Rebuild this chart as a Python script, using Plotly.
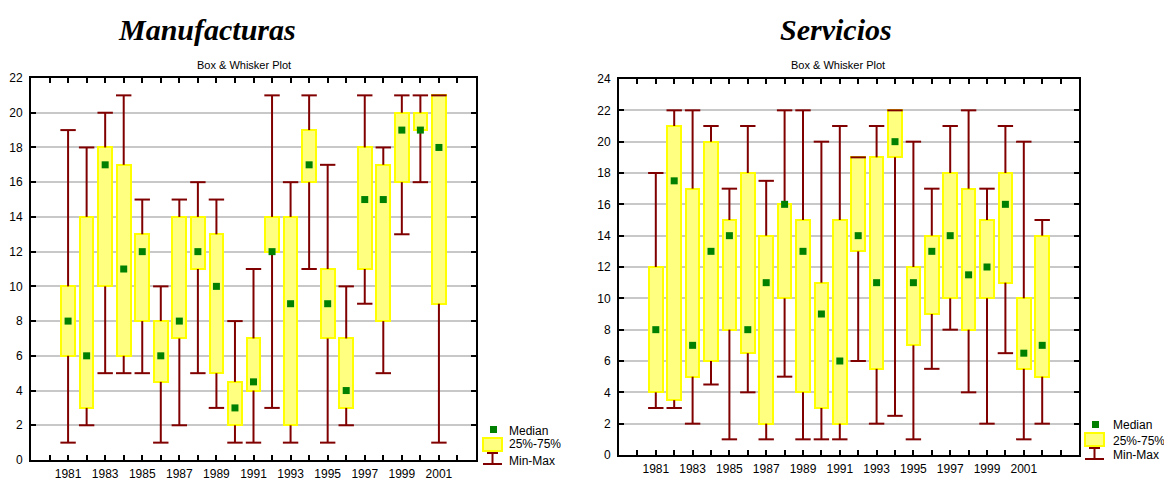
import plotly.graph_objects as go

# ---------------- data ----------------
years_m = list(range(1981, 2002))
m_min = [1, 2, 5, 5, 5, 1, 2, 5, 3, 1, 1, 3, 1, 11, 1, 2, 9, 5, 13, 16, 1]
m_q1 = [6, 3, 10, 6, 8, 4.5, 7, 11, 5, 2, 4, 12, 2, 16, 7, 3, 11, 8, 16, 19, 9]
m_med = [8, 6, 17, 11, 12, 6, 8, 12, 10, 3, 4.5, 12, 9, 17, 9, 4, 15, 15, 19, 19, 18]
m_q3 = [10, 14, 18, 17, 13, 8, 14, 14, 13, 4.5, 7, 14, 14, 19, 11, 7, 18, 17, 20, 20, 21]
m_max = [19, 18, 20, 21, 15, 10, 15, 16, 15, 8, 11, 21, 16, 21, 17, 10, 21, 18, 21, 21, 21]

years_s = list(range(1981, 2003))
s_min = [3, 3, 2, 4.5, 1, 4, 1, 5, 1, 1, 1, 6, 2, 2.5, 1, 5.5, 8, 4, 2, 6.5, 1, 2]
s_q1 = [4, 3.5, 5, 6, 8, 6.5, 2, 10, 4, 3, 2, 13, 5.5, 19, 7, 9, 10, 8, 10, 11, 5.5, 5]
s_med = [8, 17.5, 7, 13, 14, 8, 11, 16, 13, 9, 6, 14, 11, 20, 11, 13, 14, 11.5, 12, 16, 6.5, 7]
s_q3 = [12, 21, 17, 20, 15, 18, 14, 16, 15, 11, 15, 19, 19, 22, 12, 14, 18, 17, 15, 18, 10, 14]
s_max = [18, 22, 22, 21, 17, 21, 17.5, 22, 22, 20, 21, 19, 21, 22, 20, 17, 21, 22, 17, 21, 20, 15]

tick_years_m = list(range(1980, 2003))
tick_years_s = list(range(1980, 2004))
tick_labels_m = [str(y) if (y % 2 == 1 and 1981 <= y <= 2001) else "" for y in tick_years_m]
tick_labels_s = [str(y) if (y % 2 == 1 and 1981 <= y <= 2001) else "" for y in tick_years_s]

titles = ["Manufacturas", "Servicios"]
subtitle = "Box & Whisker Plot"
legend_labels = ["Median", "25%-75%", "Min-Max"]

# ---------------- styles ----------------
W, H = 1164, 478
WHISK = "#800000"
BOX_FILL = "#FFFF80"
BOX_LINE = "#FFFF00"
MED = "#008000"
GRID = "#c8c8c8"
FONT = "Liberation Sans, Arial, sans-serif"

fig = go.Figure()


def add_chart(years, vmin, q1, med, q3, vmax, xa, ya):
    xs, ys = [], []
    for x, a, b, c, d in zip(years, vmin, q1, q3, vmax):
        xs += [x, x, None, x, x, None]
        ys += [a, b, None, c, d, None]
    fig.add_trace(go.Bar(
        x=years, y=[b - a for a, b in zip(q1, q3)], base=q1, width=0.74,
        marker=dict(color=BOX_FILL, line=dict(color=BOX_LINE, width=2)),
        xaxis=xa, yaxis=ya, showlegend=False, hoverinfo="skip"))
    fig.add_trace(go.Scatter(
        x=xs, y=ys, mode="lines", line=dict(color=WHISK, width=2),
        xaxis=xa, yaxis=ya, showlegend=False, hoverinfo="skip"))
    fig.add_trace(go.Scatter(
        x=years + years, y=vmin + vmax, mode="markers",
        marker=dict(symbol="line-ew", size=11, line=dict(color=WHISK, width=2)),
        xaxis=xa, yaxis=ya, showlegend=False, hoverinfo="skip"))
    fig.add_trace(go.Scatter(
        x=years, y=med, mode="markers",
        marker=dict(symbol="square", size=7, color=MED, line=dict(width=0)),
        xaxis=xa, yaxis=ya, showlegend=False))


add_chart(years_m, m_min, m_q1, m_med, m_q3, m_max, "x", "y")
add_chart(years_s, s_min, s_q1, s_med, s_q3, s_max, "x2", "y2")


def px(x):
    return x / W


def py(y):
    return 1 - y / H


common_x = dict(showgrid=False, zeroline=False, ticks="inside", ticklen=5, tickwidth=1.5,
                tickcolor="black", showline=True, linecolor="black", linewidth=2, mirror="allticks",
                tickfont=dict(family=FONT, size=12, color="black"), tickmode="array",
                automargin=False)
common_y = dict(showgrid=True, gridcolor=GRID, gridwidth=2, zeroline=False, ticks="inside",
                ticklen=5, tickwidth=1.5, tickcolor="black", showline=True, linecolor="black",
                linewidth=2, mirror="allticks", dtick=2, tick0=0, automargin=False,
                tickfont=dict(family=FONT, size=12, color="black"), ticklabelstandoff=4)

fig.update_layout(
    width=W, height=H, margin=dict(l=0, r=0, t=0, b=0, autoexpand=False),
    paper_bgcolor="white", plot_bgcolor="white", showlegend=False, bargap=0,
    xaxis=dict(domain=[px(31), px(476)], range=[1979, 2003], anchor="y",
               tickvals=tick_years_m, ticktext=tick_labels_m, ticklabelstandoff=2, **common_x),
    yaxis=dict(domain=[py(460), py(78)], range=[0, 22], anchor="x", **common_y),
    xaxis2=dict(domain=[px(619), px(1079)], range=[1979, 2004], anchor="y2",
                tickvals=tick_years_s, ticktext=tick_labels_s, ticklabelstandoff=2, **common_x),
    yaxis2=dict(domain=[py(455), py(79)], range=[0, 24], anchor="x2", **common_y),
)

# titles & subtitles
for text, cx in zip(titles, [207, 836]):
    fig.add_annotation(x=px(cx), y=py(29), xref="paper", yref="paper", showarrow=False,
                       text="<b><i>%s</i></b>" % text, xanchor="center", yanchor="middle",
                       font=dict(family="Liberation Serif, Times New Roman, serif", size=30, color="black"))
for cx in [244, 838]:
    fig.add_annotation(x=px(cx), y=py(65), xref="paper", yref="paper", showarrow=False,
                       text=subtitle, xanchor="center", yanchor="middle",
                       font=dict(family=FONT, size=11, color="black"))

# legends (drawn manually)
legend_pos = [dict(x0=483, y0=426, tx=507, ty=[431, 444, 461]),
              dict(x0=1085, y0=421, tx=1111, ty=[425, 441, 455])]
for lp in legend_pos:
    x0, y0 = lp["x0"], lp["y0"]
    fig.add_shape(type="rect", xref="paper", yref="paper", x0=px(x0 + 7), x1=px(x0 + 14),
                  y0=py(y0 + 7), y1=py(y0), fillcolor=MED, line=dict(width=0))
    fig.add_shape(type="rect", xref="paper", yref="paper", x0=px(x0), x1=px(x0 + 19),
                  y0=py(y0 + 25), y1=py(y0 + 12), fillcolor=BOX_FILL,
                  line=dict(color=BOX_LINE, width=2))
    fig.add_shape(type="line", xref="paper", yref="paper", x0=px(x0 + 9.5), x1=px(x0 + 9.5),
                  y0=py(y0 + 27), y1=py(y0 + 38), line=dict(color=WHISK, width=2))
    fig.add_shape(type="line", xref="paper", yref="paper", x0=px(x0), x1=px(x0 + 19),
                  y0=py(y0 + 38), y1=py(y0 + 38), line=dict(color=WHISK, width=2))
    fig.add_shape(type="line", xref="paper", yref="paper", x0=px(x0 + 4), x1=px(x0 + 15),
                  y0=py(y0 + 27), y1=py(y0 + 27), line=dict(color=WHISK, width=2))
    for lab, ty in zip(legend_labels, lp["ty"]):
        fig.add_annotation(x=px(lp["tx"]), y=py(ty), xref="paper", yref="paper", showarrow=False,
                           text=lab, xanchor="left", yanchor="middle",
                           font=dict(family=FONT, size=12, color="black"))

fig.write_html("out.html", config={"displayModeBar": False},
               post_script="document.body.style.margin='0';document.body.style.padding='0';"
                           "document.body.style.overflow='hidden';")
